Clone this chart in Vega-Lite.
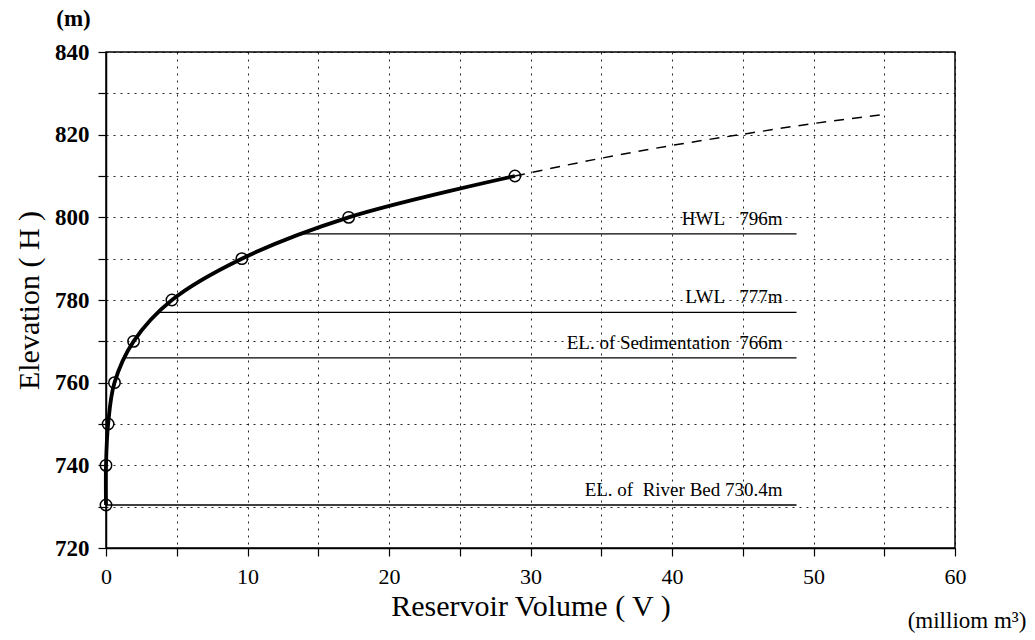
{
  "$schema": "https://vega.github.io/schema/vega-lite/v6.json",
  "width": 849,
  "height": 496,
  "autosize": "none",
  "padding": {"left": 106, "top": 52, "right": 80, "bottom": 92},
  "background": "white",
  "config": {
    "view": {"stroke": "black", "strokeWidth": 1.5},
    "font": "Liberation Serif",
    "axis": {"labelFont": "Liberation Serif", "titleFont": "Liberation Serif"},
    "text": {"font": "Liberation Serif"}
  },
  "datasets": {
    "curve": [
      {"V": 0, "H": 730.4},
      {"V": 0, "H": 740},
      {"V": 0.15, "H": 750},
      {"V": 0.6, "H": 760},
      {"V": 1.95, "H": 770},
      {"V": 4.66, "H": 780},
      {"V": 9.6, "H": 790},
      {"V": 17.15, "H": 800},
      {"V": 28.9, "H": 810}
    ],
    "ext": [
      {"V": 28.9, "H": 810},
      {"V": 35, "H": 814.3},
      {"V": 40, "H": 817.4},
      {"V": 45, "H": 820.1},
      {"V": 50, "H": 822.7},
      {"V": 55, "H": 824.9}
    ],
    "levels": [
      {"V": 0, "V2": 48.8, "H": 730.4, "label": "EL. of\u00a0 River Bed 730.4m"},
      {"V": 1.3, "V2": 48.8, "H": 766, "label": "EL. of Sedimentation\u00a0 766m"},
      {"V": 3.8, "V2": 48.8, "H": 777, "label": "LWL\u00a0\u00a0 777m"},
      {"V": 13.8, "V2": 48.8, "H": 796, "label": "HWL\u00a0\u00a0 796m"}
    ],
    "unitH": [
      {"V": -2.3, "H": 848, "t": "(m)"}
    ],
    "unitV": [
      {"V": 60.85, "H": 702.3, "t": "(milliom m³)"}
    ]
  },
  "layer": [
    {
      "data": {"name": "curve"},
      "mark": {"type": "line", "interpolate": "catmull-rom", "color": "black", "strokeWidth": 3.8},
      "encoding": {
        "x": {
          "field": "V", "type": "quantitative",
          "scale": {"domain": [0, 60], "nice": false, "zero": false},
          "axis": {
            "title": "Reservoir Volume ( V )",
            "values": [0, 5, 10, 15, 20, 25, 30, 35, 40, 45, 50, 55, 60],
            "labelExpr": "datum.value % 10 === 0 ? datum.label : ''",
            "grid": true, "gridDash": [2, 5], "gridColor": "black", "gridWidth": 1, "gridOpacity": 0.85,
            "domainColor": "black", "domainWidth": 1.5,
            "tickColor": "black", "tickSize": 8, "tickWidth": 1.2,
            "labelFont": "Liberation Serif", "labelFontSize": 22, "labelColor": "black", "labelPadding": 10, "labelFlush": false,
            "titleFont": "Liberation Serif", "titleFontSize": 30, "titleFontWeight": "normal", "titleColor": "black", "titlePadding": 4
          }
        },
        "y": {
          "field": "H", "type": "quantitative",
          "scale": {"domain": [720, 840], "nice": false, "zero": false},
          "axis": {
            "title": "Elevation ( H )",
            "values": [720, 730, 740, 750, 760, 770, 780, 790, 800, 810, 820, 830, 840],
            "labelExpr": "datum.value % 20 === 0 ? datum.label : ''",
            "grid": true, "gridDash": [2, 5], "gridColor": "black", "gridWidth": 1, "gridOpacity": 0.85,
            "domainColor": "black", "domainWidth": 1.5,
            "tickColor": "black", "tickSize": 8, "tickWidth": 1.2,
            "labelFont": "Liberation Serif", "labelFontSize": 23, "labelFontWeight": "bold", "labelColor": "black", "labelPadding": 9, "labelFlush": false,
            "titleFont": "Liberation Serif", "titleFontSize": 30, "titleFontWeight": "normal", "titleColor": "black", "titlePadding": 10
          }
        }
      }
    },
    {
      "data": {"name": "ext"},
      "mark": {"type": "line", "interpolate": "monotone", "color": "black", "strokeWidth": 1.5, "strokeDash": [10, 8]},
      "encoding": {
        "x": {"field": "V", "type": "quantitative"},
        "y": {"field": "H", "type": "quantitative"}
      }
    },
    {
      "data": {"name": "levels"},
      "mark": {"type": "rule", "color": "black", "strokeWidth": 1.3},
      "encoding": {
        "x": {"field": "V", "type": "quantitative"},
        "x2": {"field": "V2"},
        "y": {"field": "H", "type": "quantitative"}
      }
    },
    {
      "data": {"name": "levels"},
      "mark": {"type": "text", "align": "right", "baseline": "alphabetic", "dx": -14, "dy": -9, "font": "Liberation Serif", "fontSize": 19, "color": "black"},
      "encoding": {
        "x": {"field": "V2", "type": "quantitative"},
        "y": {"field": "H", "type": "quantitative"},
        "text": {"field": "label"}
      }
    },
    {
      "data": {"name": "curve"},
      "mark": {"type": "point", "shape": "circle", "filled": false, "size": 130, "color": "black", "strokeWidth": 1.5, "opacity": 1},
      "encoding": {
        "x": {"field": "V", "type": "quantitative"},
        "y": {"field": "H", "type": "quantitative"}
      }
    },
    {
      "data": {"name": "unitH"},
      "mark": {"type": "text", "font": "Liberation Serif", "fontSize": 23, "fontWeight": "bold", "color": "black"},
      "encoding": {
        "x": {"field": "V", "type": "quantitative"},
        "y": {"field": "H", "type": "quantitative"},
        "text": {"field": "t"}
      }
    },
    {
      "data": {"name": "unitV"},
      "mark": {"type": "text", "font": "Liberation Serif", "fontSize": 23, "fontWeight": "normal", "color": "black"},
      "encoding": {
        "x": {"field": "V", "type": "quantitative"},
        "y": {"field": "H", "type": "quantitative"},
        "text": {"field": "t"}
      }
    }
  ]
}
